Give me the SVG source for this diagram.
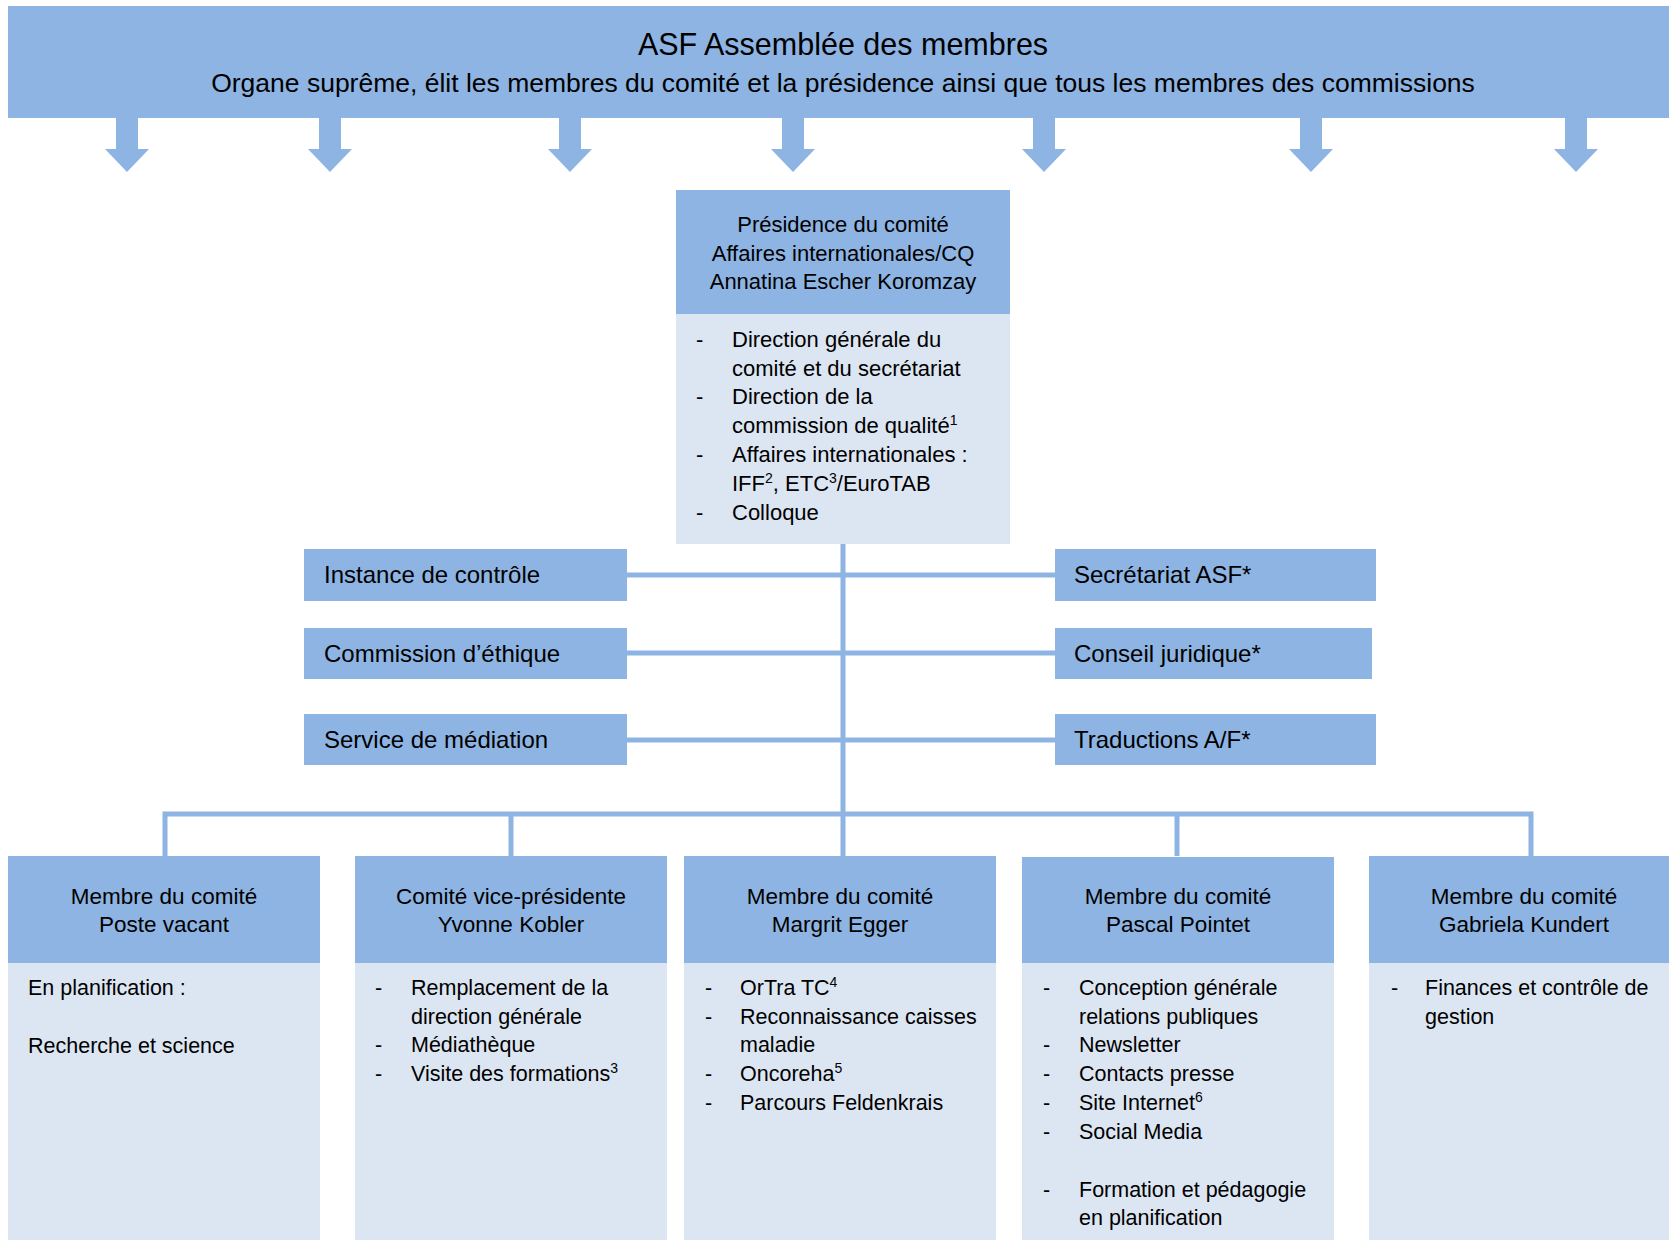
<svg xmlns="http://www.w3.org/2000/svg" width="1669" height="1240" viewBox="0 0 1669 1240">
<style>
text{font-family:"Liberation Sans",Arial,sans-serif;fill:#000}
.hd{fill:#8EB4E3}
.bd{fill:#DCE6F2}
.ln{stroke:#8EB4E3;stroke-width:5;fill:none}
.arr{fill:#8EB4E3}
.t30{font-size:30.5px}
.t26{font-size:26.5px}
.t22{font-size:22px}
.t225{font-size:22.5px}
.t215{font-size:21.5px}
.t24{font-size:24px}
.c{text-anchor:middle}
.sup{font-size:14px}
</style>
<defs>
<path id="arrow" d="M-11,0 H11 V31 H22 L0,54 L-22,31 H-11 Z"/>
</defs>

<g id="assemblee">
<rect class="hd" x="8" y="6" width="1661" height="112"/>
<text class="t30 c" x="843" y="55">ASF Assemblée des membres</text>
<text class="t26 c" x="843" y="91.5">Organe suprême, élit les membres du comité et la présidence ainsi que tous les membres des commissions</text>
<g class="arr">
<use href="#arrow" x="127" y="118"/>
<use href="#arrow" x="330" y="118"/>
<use href="#arrow" x="570" y="118"/>
<use href="#arrow" x="793" y="118"/>
<use href="#arrow" x="1044" y="118"/>
<use href="#arrow" x="1311" y="118"/>
<use href="#arrow" x="1576" y="118"/>
</g>
</g>

<g id="connectors">
<path class="ln" d="M843,544 V856"/>
<path class="ln" d="M626,575 H1055 M626,653 H1055 M626,740 H1055"/>
<path class="ln" d="M165,856 V814 H1531 V856 M511,814 V856 M1177,814 V856"/>
</g>

<g id="presidence">
<rect class="hd" x="676" y="190" width="334" height="124"/>
<rect class="bd" x="676" y="314" width="334" height="230"/>
<text class="t22 c" x="843" y="232">Présidence du comité</text>
<text class="t22 c" x="843" y="260.5">Affaires internationales/CQ</text>
<text class="t22 c" x="843" y="289">Annatina Escher Koromzay</text>
<g class="t22">
<text x="696" y="346.7">-</text><text x="732" y="346.7">Direction générale du</text>
<text x="732" y="375.5">comité et du secrétariat</text>
<text x="696" y="404.3">-</text><text x="732" y="404.3">Direction de la</text>
<text x="732" y="433.1">commission de qualité<tspan class="sup" dy="-8">1</tspan></text>
<text x="696" y="461.9">-</text><text x="732" y="461.9">Affaires internationales :</text>
<text x="732" y="490.7">IFF<tspan class="sup" dy="-8">2</tspan><tspan dy="8">, ETC</tspan><tspan class="sup" dy="-8">3</tspan><tspan dy="8">/EuroTAB</tspan></text>
<text x="696" y="519.5">-</text><text x="732" y="519.5">Colloque</text>
</g>
</g>

<g id="instance-controle">
<rect class="hd" x="304" y="549" width="323" height="52"/>
<text class="t24" x="324" y="583">Instance de contrôle</text>
</g>
<g id="commission-ethique">
<rect class="hd" x="304" y="628" width="323" height="51"/>
<text class="t24" x="324" y="662">Commission d’éthique</text>
</g>
<g id="service-mediation">
<rect class="hd" x="304" y="714" width="323" height="51"/>
<text class="t24" x="324" y="748">Service de médiation</text>
</g>
<g id="secretariat">
<rect class="hd" x="1055" y="549" width="321" height="52"/>
<text class="t24" x="1074" y="583">Secrétariat ASF*</text>
</g>
<g id="conseil-juridique">
<rect class="hd" x="1055" y="628" width="317" height="51"/>
<text class="t24" x="1074" y="662">Conseil juridique*</text>
</g>
<g id="traductions">
<rect class="hd" x="1055" y="714" width="321" height="51"/>
<text class="t24" x="1074" y="748">Traductions A/F*</text>
</g>

<g id="membre-vacant">
<rect class="hd" x="8" y="856" width="312" height="107"/>
<rect class="bd" x="8" y="963" width="312" height="277"/>
<text class="t225 c" x="164" y="903.5">Membre du comité</text>
<text class="t225 c" x="164" y="932">Poste vacant</text>
<g class="t215">
<text x="28" y="995">En planification :</text>
<text x="28" y="1052.5">Recherche et science</text>
</g>
</g>

<g id="vice-presidente">
<rect class="hd" x="355" y="856" width="312" height="107"/>
<rect class="bd" x="355" y="963" width="312" height="277"/>
<text class="t225 c" x="511" y="903.5">Comité vice-présidente</text>
<text class="t225 c" x="511" y="932">Yvonne Kobler</text>
<g class="t215">
<text x="375" y="995">-</text><text x="411" y="995">Remplacement de la</text>
<text x="411" y="1023.5">direction générale</text>
<text x="375" y="1052">-</text><text x="411" y="1052">Médiathèque</text>
<text x="375" y="1081">-</text><text x="411" y="1081">Visite des formations<tspan class="sup" dy="-8">3</tspan></text>
</g>
</g>

<g id="margrit-egger">
<rect class="hd" x="684" y="856" width="312" height="107"/>
<rect class="bd" x="684" y="963" width="312" height="277"/>
<text class="t225 c" x="840" y="903.5">Membre du comité</text>
<text class="t225 c" x="840" y="932">Margrit Egger</text>
<g class="t215">
<text x="705" y="995">-</text><text x="740" y="995">OrTra TC<tspan class="sup" dy="-8">4</tspan></text>
<text x="705" y="1023.5">-</text><text x="740" y="1023.5">Reconnaissance caisses</text>
<text x="740" y="1052">maladie</text>
<text x="705" y="1081">-</text><text x="740" y="1081">Oncoreha<tspan class="sup" dy="-8">5</tspan></text>
<text x="705" y="1110">-</text><text x="740" y="1110">Parcours Feldenkrais</text>
</g>
</g>

<g id="pascal-pointet">
<rect class="hd" x="1022" y="857" width="312" height="106"/>
<rect class="bd" x="1022" y="963" width="312" height="277"/>
<text class="t225 c" x="1178" y="903.5">Membre du comité</text>
<text class="t225 c" x="1178" y="932">Pascal Pointet</text>
<g class="t215">
<text x="1043" y="995">-</text><text x="1079" y="995">Conception générale</text>
<text x="1079" y="1023.5">relations publiques</text>
<text x="1043" y="1052">-</text><text x="1079" y="1052">Newsletter</text>
<text x="1043" y="1081">-</text><text x="1079" y="1081">Contacts presse</text>
<text x="1043" y="1110">-</text><text x="1079" y="1110">Site Internet<tspan class="sup" dy="-8">6</tspan></text>
<text x="1043" y="1138.5">-</text><text x="1079" y="1138.5">Social Media</text>
<text x="1043" y="1196.5">-</text><text x="1079" y="1196.5">Formation et pédagogie</text>
<text x="1079" y="1225">en planification</text>
</g>
</g>

<g id="gabriela-kundert">
<rect class="hd" x="1369" y="856" width="300" height="107"/>
<rect class="bd" x="1369" y="963" width="300" height="277"/>
<text class="t225 c" x="1524" y="903.5">Membre du comité</text>
<text class="t225 c" x="1524" y="932">Gabriela Kundert</text>
<g class="t215">
<text x="1391" y="995">-</text><text x="1425" y="995">Finances et contrôle de</text>
<text x="1425" y="1023.5">gestion</text>
</g>
</g>
</svg>
